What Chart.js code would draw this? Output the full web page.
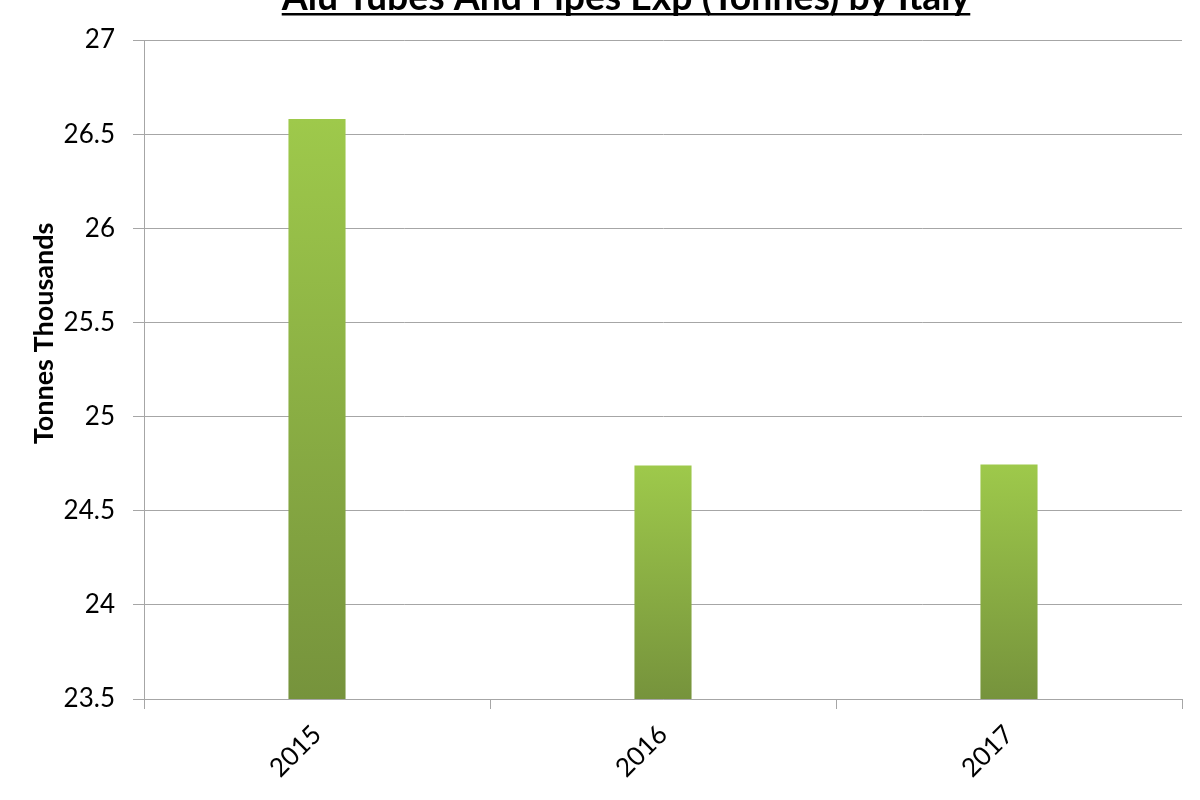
<!DOCTYPE html>
<html>
<head>
<meta charset="utf-8">
<script src="https://cdn.jsdelivr.net/npm/chart.js@4/dist/chart.umd.min.js"></script>
<style>
  html, body { margin: 0; padding: 0; background: #ffffff; }
  #wrap { width: 1200px; height: 800px; position: relative; }
</style>
</head>
<body>
<div id="wrap"><canvas id="exportChart"></canvas></div>
<script>
const chartTitle = 'Alu Tubes And Pipes Exp (Tonnes) by Italy';
const years = ['2015', '2016', '2017'];
const exportValues = [26.58, 24.74, 24.745];
const yMin = 23.5;
const yMax = 27;
const yStep = 0.5;

// title sits partly above the canvas, underlined, like the original
const cutTitle = {
    id: 'cutTitle',
    afterDraw(chart) {
        const ctx = chart.ctx;
        ctx.save();
        let size = 30;
        ctx.font = 'bold ' + size + 'px Lato';
        size = size * 689 / ctx.measureText(chartTitle).width;
        ctx.font = 'bold ' + size + 'px Lato';
        const w = ctx.measureText(chartTitle).width;
        const cx = 626;
        ctx.fillStyle = '#000000';
        ctx.textAlign = 'center';
        ctx.textBaseline = 'alphabetic';
        ctx.fillText(chartTitle, cx, 10);
        ctx.fillRect(cx - w / 2, 13, w, 2.5);
        ctx.restore();
    }
};

// each bar gets its own light-top / dark-bottom gradient
function barGradient(context) {
    const chart = context.chart;
    const yScale = chart.scales.y;
    if (!chart.chartArea || !yScale || context.raw == null) return '#8db443';
    const top = yScale.getPixelForValue(context.raw);
    const bottom = yScale.getPixelForValue(yMin);
    const g = chart.ctx.createLinearGradient(0, top, 0, bottom);
    g.addColorStop(0, '#9ec94b');
    g.addColorStop(1, '#76933c');
    return g;
}

const ctx = document.getElementById('exportChart').getContext('2d');
new Chart(ctx, {
    type: 'bar',
    data: {
        labels: years,
        datasets: [{
            data: exportValues,
            backgroundColor: barGradient,
            borderWidth: 0,
            categoryPercentage: 1,
            barPercentage: 0.165
        }]
    },
    options: {
        responsive: true,
        maintainAspectRatio: false,
        animation: false,
        layout: { padding: { top: 40, right: 18, left: 0, bottom: 0 } },
        plugins: {
            legend: { display: false },
            title: { display: false },
            tooltip: { enabled: false }
        },
        scales: {
            x: {
                grid: {
                    offset: true,
                    drawOnChartArea: false,
                    drawTicks: true,
                    tickLength: 10,
                    color: '#a6a6a6'
                },
                border: { color: '#a6a6a6' },
                ticks: {
                    color: '#000000',
                    font: { family: 'Lato', size: 26 },
                    maxRotation: 45,
                    minRotation: 45,
                    padding: 10
                },
                afterFit(scale) { scale.height = 101; }
            },
            y: {
                min: yMin,
                max: yMax,
                grid: {
                    color: '#a6a6a6',
                    tickLength: 11
                },
                border: { color: '#a6a6a6' },
                ticks: {
                    stepSize: yStep,
                    color: '#000000',
                    font: { family: 'Lato', size: 26 },
                    padding: 18,
                    callback: (v) => String(v)
                },
                title: {
                    display: true,
                    // leading spaces nudge the label up a little, as in the original
                    text: '           Tonnes Thousands',
                    color: '#000000',
                    font: { family: 'Lato', size: 27, weight: 'bold' },
                    padding: { top: 28, bottom: 0 }
                },
                afterFit(scale) { scale.width = 144; }
            }
        }
    },
    plugins: [cutTitle]
});
</script>
</body>
</html>
